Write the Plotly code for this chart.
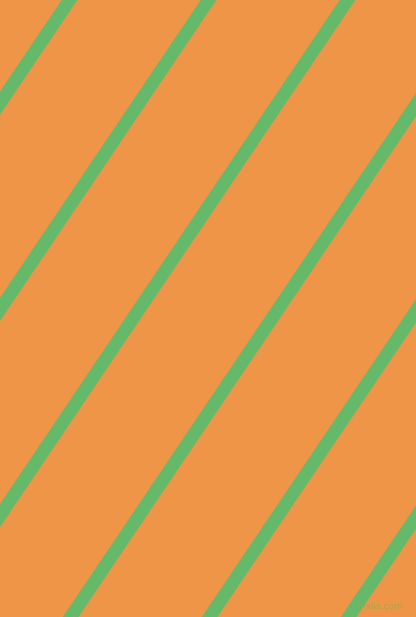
import plotly.graph_objects as go

W, H = 416, 617

# stripe centres where they cross the top edge (px), and their lean (dx per dy)
stripe_x_at_top = [69.5, 208.5, 347.5, 486.5, 625.5, 764.5]
lean = 0.674

background = "#EF9547"
stripe_colour = "#64B96B"

fig = go.Figure()

for x0 in stripe_x_at_top:
    ys = [-30, H + 30]
    xs = [x0 - lean * y for y in ys]
    fig.add_trace(go.Scatter(x=xs, y=ys, mode="lines",
                             line=dict(color=stripe_colour, width=13),
                             hoverinfo="skip", showlegend=False))

fig.add_annotation(x=404, y=606, xref="x", yref="y", text="pixlis.com",
                   showarrow=False, xanchor="right", yanchor="middle",
                   font=dict(family="DejaVu Sans", size=9, color="rgba(150,170,80,0.75)"))

fig.update_xaxes(range=[0, W], visible=False, showgrid=False, zeroline=False, fixedrange=True)
fig.update_yaxes(range=[H, 0], visible=False, showgrid=False, zeroline=False, fixedrange=True)
fig.update_layout(width=W, height=H, margin=dict(l=0, r=0, t=0, b=0, pad=0),
                  paper_bgcolor=background, plot_bgcolor=background,
                  showlegend=False)

fig.write_html("out.html", config={"displayModeBar": False},
               post_script="document.body.style.margin='0';document.body.style.background='%s';" % background)
